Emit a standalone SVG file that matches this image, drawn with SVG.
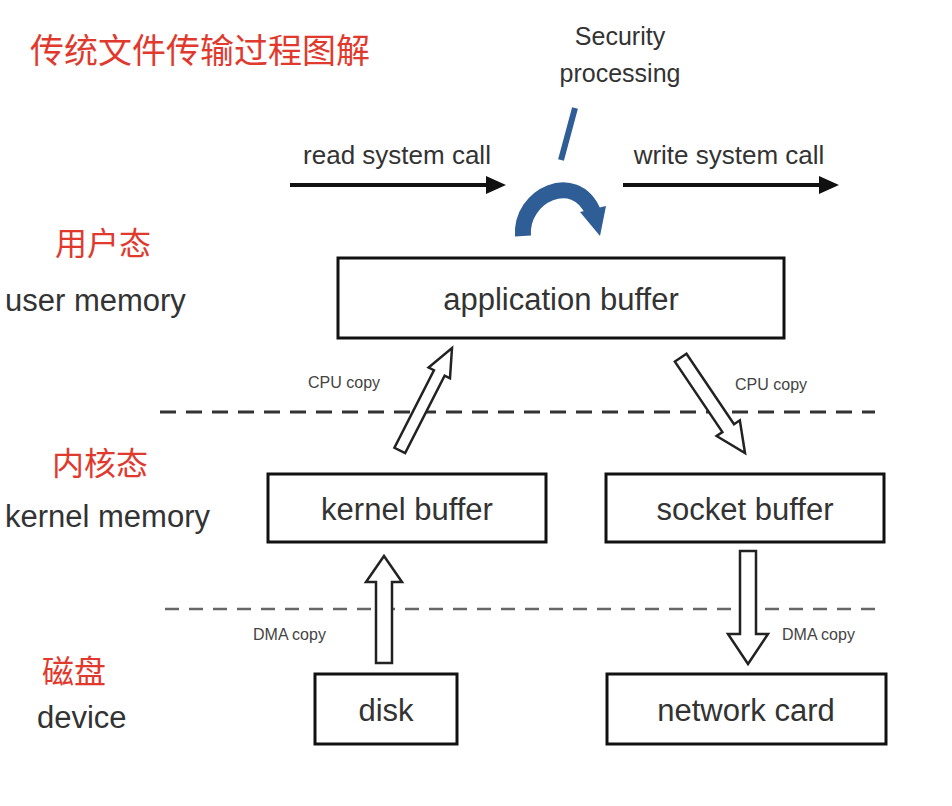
<svg xmlns="http://www.w3.org/2000/svg" width="952" height="806" viewBox="0 0 952 806">
<style>
.box{fill:#fff;stroke:#111;stroke-width:3}
.lbl{font-family:"Liberation Sans",Arial,sans-serif;fill:#333;text-anchor:middle}
.side{font-family:"Liberation Sans",Arial,sans-serif;fill:#333;font-size:31px}
.cn{font-family:"Noto Sans CJK SC",sans-serif;fill:#e03a2f}
.small{font-family:"Liberation Sans",Arial,sans-serif;fill:#444;font-size:16px}
.hollow{fill:#fff;stroke:#222;stroke-width:2.5;stroke-linejoin:miter}
</style>
<defs>
<marker id="ah" markerWidth="20" markerHeight="20" refX="6" refY="10" orient="auto" markerUnits="userSpaceOnUse" viewBox="0 0 20 20"><path d="M0,1 L20,10 L0,19 Z" fill="#111"/></marker>
</defs>
<rect width="952" height="806" fill="#fff"/>
<text class="cn" x="30" y="63" font-size="34">传统文件传输过程图解</text>
<text class="cn" x="55" y="255" font-size="32">用户态</text>
<text class="side" x="5" y="311">user memory</text>
<text class="cn" x="52" y="475" font-size="32">内核态</text>
<text class="side" x="5" y="527">kernel memory</text>
<text class="cn" x="42" y="683" font-size="32">磁盘</text>
<text class="side" x="37" y="728">device</text>
<text class="lbl" x="620" y="45" font-size="25">Security</text>
<text class="lbl" x="620" y="82" font-size="25">processing</text>
<text class="lbl" x="397" y="164" font-size="26">read system call</text>
<text class="lbl" x="729" y="164" font-size="26">write system call</text>
<g id="connectors">
<line x1="290" y1="185" x2="492" y2="185" stroke="#111" stroke-width="4" marker-end="url(#ah)"/>
<line x1="623" y1="185" x2="825" y2="185" stroke="#111" stroke-width="4" marker-end="url(#ah)"/>
<line x1="575" y1="108" x2="561" y2="160" stroke="#2f5d95" stroke-width="6"/>
<path d="M523,236 C520,195 575,170 593,212" fill="none" stroke="#2f5d95" stroke-width="16"/>
<path d="M580,212 L606,206 L600,236 Z" fill="#2f5d95"/>
<line x1="160" y1="412" x2="875" y2="412" stroke="#333" stroke-width="3" stroke-dasharray="16,10"/>
<line x1="165" y1="609" x2="880" y2="609" stroke="#666" stroke-width="2.5" stroke-dasharray="14,10"/>
<g transform="translate(452,348) rotate(27)"><path class="hollow" d="M0,0 L12,28 L6,28 L6,115 L-6,115 L-6,28 L-12,28 Z"/></g>
<g transform="translate(745,453) rotate(-34)"><path class="hollow" d="M0,0 L14,-30 L7,-30 L7,-115 L-7,-115 L-7,-30 L-14,-30 Z"/></g>
<path class="hollow" d="M384,556 L402,582 L392,582 L392,663 L376,663 L376,582 L366,582 Z"/>
<path class="hollow" d="M748,664 L768,634 L756,634 L756,551 L740,551 L740,634 L728,634 Z"/>
<text class="small" x="308" y="388">CPU copy</text>
<text class="small" x="735" y="390">CPU copy</text>
<text class="small" x="253" y="640">DMA copy</text>
<text class="small" x="782" y="640">DMA copy</text>
</g>
<g id="app"><rect class="box" x="338" y="258" width="446" height="80"/><text class="lbl" x="561" y="310" font-size="31">application buffer</text></g>
<g id="kernel"><rect class="box" x="268" y="474" width="278" height="68"/><text class="lbl" x="407" y="520" font-size="31">kernel buffer</text></g>
<g id="socket"><rect class="box" x="606" y="474" width="278" height="68"/><text class="lbl" x="745" y="520" font-size="31">socket buffer</text></g>
<g id="disk"><rect class="box" x="315" y="674" width="142" height="70"/><text class="lbl" x="386" y="721" font-size="31">disk</text></g>
<g id="nic"><rect class="box" x="607" y="674" width="279" height="70"/><text class="lbl" x="746" y="721" font-size="31">network card</text></g>
</svg>
